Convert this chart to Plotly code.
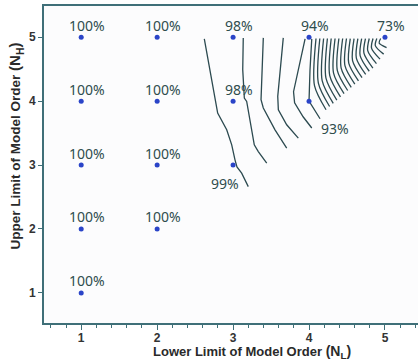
import plotly.graph_objects as go

# Points (N_L, N_H) and accuracy labels
pt_x = [1, 2, 3, 4, 5, 1, 2, 3, 4, 1, 2, 3, 1, 2, 1]
pt_y = [5, 5, 5, 5, 5, 4, 4, 4, 4, 3, 3, 3, 2, 2, 1]
pt_label = ["100%", "100%", "98%", "94%", "73%",
            "100%", "100%", "98%", "93%",
            "100%", "100%", "99%",
            "100%", "100%",
            "100%"]

# Contour lines
line_x = [
    [2.621, 2.696, 2.797, 2.916, 2.982, 3.025, 3.051, 3.113, 3.200],
    [3.134, 3.127, 3.148, 3.179, 3.279, 3.332, 3.443],
    [3.398, 3.377, 3.368, 3.398, 3.552, 3.706],
    [3.661, 3.618, 3.588, 3.596, 3.706, 3.859],
    [3.948, 3.869, 3.796, 3.810, 3.922, 4.036],
    [4.036, 4.013, 4.000, 4.053, 4.145],
]
line_y = [
    [4.975, 4.493, 3.814, 3.552, 3.317, 3.082, 2.970, 2.873, 2.663],
    [4.990, 4.493, 4.049, 3.996, 3.317, 3.212, 3.030],
    [4.990, 4.388, 4.023, 3.893, 3.552, 3.265],
    [4.990, 4.493, 4.075, 3.866, 3.631, 3.422],
    [4.975, 4.571, 4.148, 3.975, 3.756, 3.580],
    [4.975, 4.493, 4.000, 3.900, 3.725],
]
fan_x = [
    [4.092, 4.072, 4.224], [4.142, 4.123, 4.271], [4.192, 4.173, 4.319],
    [4.242, 4.223, 4.366], [4.292, 4.273, 4.414], [4.343, 4.323, 4.461],
    [4.393, 4.373, 4.509], [4.443, 4.423, 4.556], [4.493, 4.473, 4.603],
    [4.543, 4.523, 4.651], [4.593, 4.573, 4.698], [4.643, 4.623, 4.746],
    [4.693, 4.673, 4.793], [4.743, 4.723, 4.841], [4.793, 4.773, 4.888],
    [4.843, 4.823, 4.935], [4.893, 4.873, 4.983], [4.943, 4.923, 5.021],
]
fan_y = [
    [4.98, 4.242, 3.866], [4.98, 4.282, 3.916], [4.98, 4.321, 3.966],
    [4.98, 4.360, 4.016], [4.98, 4.399, 4.067], [4.98, 4.438, 4.117],
    [4.98, 4.478, 4.167], [4.98, 4.517, 4.217], [4.98, 4.556, 4.267],
    [4.98, 4.595, 4.318], [4.98, 4.635, 4.368], [4.98, 4.674, 4.418],
    [4.98, 4.713, 4.468], [4.98, 4.752, 4.518], [4.98, 4.791, 4.587],
    [4.98, 4.831, 4.658], [4.98, 4.870, 4.736], [4.98, 4.909, 4.838],
]

x_ticks = [1, 2, 3, 4, 5]
y_ticks = [1, 2, 3, 4, 5]

LINE_C = "#2c4a50"
AXIS_C = "#3f6f78"
TEXT_C = "#2f4d4d"

fig = go.Figure()
for xs, ys in zip(line_x, line_y):
    fig.add_trace(go.Scatter(x=xs, y=ys, mode="lines",
                             line=dict(color=LINE_C, width=1.3),
                             hoverinfo="skip", showlegend=False))
for xs, ys in zip(fan_x, fan_y):
    fig.add_trace(go.Scatter(x=xs, y=ys, mode="lines",
                             line=dict(color=LINE_C, width=1.3, shape="spline", smoothing=0.8),
                             hoverinfo="skip", showlegend=False))

fig.add_trace(go.Scatter(x=pt_x, y=pt_y, mode="markers",
                         marker=dict(color="#2a44c8", size=5),
                         showlegend=False))

for x, y, t in zip(pt_x, pt_y, pt_label):
    if t == "99%":
        xs, ys = -8, -18
    elif t == "93%":
        xs, ys = 26, -27
    else:
        xs, ys = 6, 12
    fig.add_annotation(x=x, y=y, text=t, showarrow=False, xshift=xs, yshift=ys,
                       font=dict(family="Noto Sans", size=14, color=TEXT_C))

fig.add_annotation(xref="paper", yref="paper", x=0.555, y=-0.127, xanchor="center", yanchor="bottom",
                   text="<b>Lower Limit of Model Order</b> <span style='font-size:14px'><b>(N<sub>L</sub>)</b></span>",
                   showarrow=False, font=dict(family="Liberation Sans", size=13, color="#2a2a2a"))
fig.add_annotation(xref="paper", yref="paper", x=-0.075, y=0.56, xanchor="center", yanchor="middle",
                   textangle=-90,
                   text="<b>Upper Limit of Model Order</b> <span style='font-size:15px'><b>(N<sub>H</sub>)</b></span>",
                   showarrow=False, font=dict(family="Liberation Sans", size=13.5, color="#2a2a2a"))

fig.update_layout(
    width=418, height=363,
    margin=dict(l=44, r=0, t=6, b=40),
    paper_bgcolor="#ffffff",
    plot_bgcolor="#fcfcfd",
    xaxis=dict(range=[0.51, 5.435], tickvals=x_ticks, ticks="outside", ticklen=5, tickwidth=1.2,
               tickcolor=AXIS_C, showline=True, linecolor=AXIS_C, linewidth=1.6, mirror=True,
               showgrid=False, zeroline=False, automargin=False, ticklabelstandoff=-2,
               minor=dict(dtick=0.2, ticks="outside", ticklen=3, tickcolor=AXIS_C, showgrid=False),
               tickfont=dict(family="Liberation Sans", size=12, color="#333333", weight="bold")),
    yaxis=dict(range=[0.529, 5.489], tickvals=y_ticks, ticks="outside", ticklen=4, tickwidth=1.2,
               tickcolor=AXIS_C, showline=True, linecolor=AXIS_C, linewidth=1.6,
               showgrid=False, zeroline=False, automargin=False,
               tickfont=dict(family="Liberation Sans", size=12, color="#333333", weight="bold")),
)

fig.write_html("out.html", config={"displayModeBar": False},
               post_script="document.body.style.margin='0px';document.body.style.padding='0px';")
